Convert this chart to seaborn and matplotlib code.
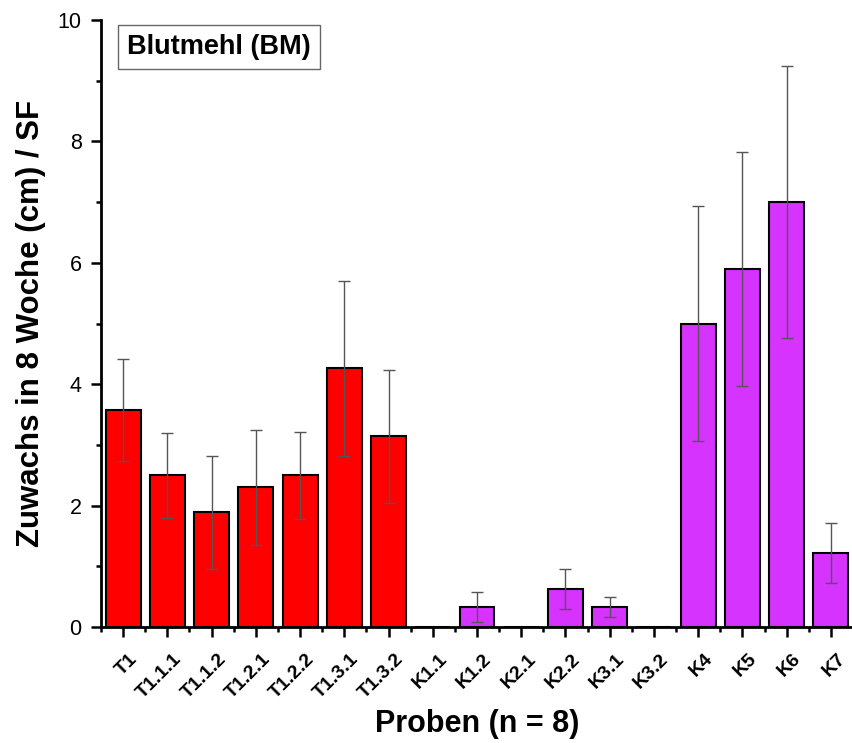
import matplotlib
matplotlib.use("Agg")
import matplotlib.pyplot as plt
import matplotlib.transforms as mtransforms
import seaborn as sns
import pandas as pd
import numpy as np
from matplotlib.ticker import MultipleLocator, FixedLocator

categories = ["T1", "T1.1.1", "T1.1.2", "T1.2.1", "T1.2.2", "T1.3.1", "T1.3.2",
              "K1.1", "K1.2", "K2.1", "K2.2", "K3.1", "K3.2", "K4", "K5", "K6", "K7"]
values = [3.57, 2.50, 1.89, 2.30, 2.50, 4.26, 3.14,
          0.0, 0.33, 0.0, 0.63, 0.33, 0.0, 5.0, 5.90, 7.0, 1.22]
errors = [0.84, 0.70, 0.93, 0.94, 0.72, 1.44, 1.09,
          0.0, 0.25, 0.0, 0.33, 0.17, 0.0, 1.93, 1.93, 2.24, 0.50]
groups = ["T"] * 7 + ["K"] * 10
palette = {"T": "#FF0000", "K": "#D633FF"}

sns.set_style("ticks")
plt.rcParams['font.family'] = ['Liberation Sans', 'DejaVu Sans']
plt.rcParams.update({"text.color": "black", "axes.labelcolor": "black",
                     "xtick.color": "black", "ytick.color": "black",
                     "axes.edgecolor": "black"})

df = pd.DataFrame({"Probe": categories, "Wert": values, "Gruppe": groups})

fig = plt.figure(figsize=(8.53, 7.43), dpi=100)
ax = fig.add_axes([0.1184, 0.156, 0.8816, 0.817])

sns.barplot(data=df, x="Probe", y="Wert", hue="Gruppe", palette=palette,
            dodge=False, width=0.79, edgecolor="black", linewidth=1.5,
            saturation=1, legend=False, ax=ax, errorbar=None)

xs = np.arange(len(categories))
for x, v, e in zip(xs, values, errors):
    if e > 0:
        ax.errorbar(x, v, yerr=e, fmt="none", ecolor="#555555", elinewidth=1.0,
                    capsize=4.5, capthick=1.0, zorder=5)

ax.set_xlim(-0.5, len(categories) - 0.5)
ax.set_ylim(0, 10)
ax.yaxis.set_major_locator(MultipleLocator(2))
ax.yaxis.set_minor_locator(MultipleLocator(1))
ax.xaxis.set_minor_locator(FixedLocator(np.arange(-0.5, len(categories), 1.0)))

sns.despine(ax=ax, top=True, right=True)
for s in ["left", "bottom"]:
    ax.spines[s].set_linewidth(2)

ax.tick_params(axis="y", which="major", direction="out", length=7, width=1.8,
               labelsize=15.5, pad=7)
ax.tick_params(axis="y", which="minor", direction="out", length=3.5, width=1.8)
ax.tick_params(axis="x", which="major", direction="out", length=7, width=1.8, labelsize=14)
ax.tick_params(axis="x", which="minor", direction="out", length=3.5, width=1.8)

ax.set_xticks(xs)
ax.set_xticklabels(categories, rotation=45, ha="right", va="center",
                   rotation_mode="anchor", fontweight="bold")
offset = mtransforms.ScaledTranslation(12 / 100, -15 / 100, fig.dpi_scale_trans)
for lbl in ax.get_xticklabels():
    lbl.set_transform(lbl.get_transform() + offset)

ax.set_xlabel("Proben (n = 8)", fontsize=22, fontweight="bold")
ax.xaxis.set_label_coords(0.5, -0.135)
ax.set_ylabel("Zuwachs in 8 Woche (cm) / SF", fontsize=22.5, fontweight="bold", labelpad=8)

ax.text(0.035, 0.977, "Blutmehl (BM)", transform=ax.transAxes, fontsize=19.5,
        fontweight="bold", va="top", ha="left",
        bbox=dict(boxstyle="square,pad=0.33", facecolor="white", edgecolor="#666666", linewidth=1))

fig.savefig("out.png", dpi=100)
